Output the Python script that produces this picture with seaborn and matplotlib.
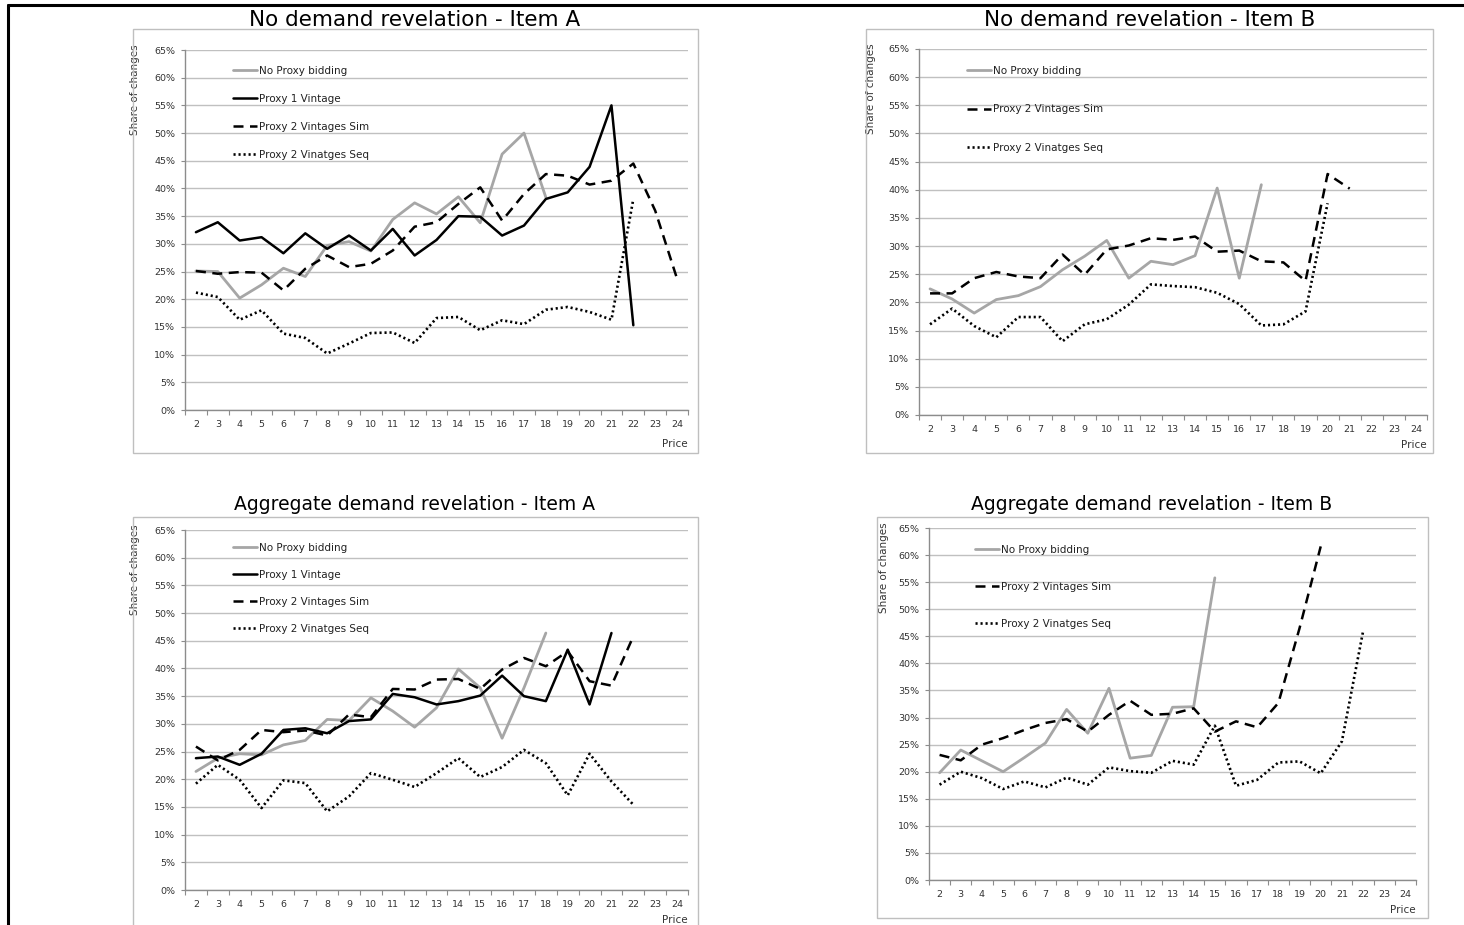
import matplotlib
matplotlib.use("Agg")
import matplotlib.pyplot as plt
from matplotlib.patches import Rectangle
from matplotlib.lines import Line2D
import seaborn as sns
import pandas as pd

# ---------------- data ----------------
prices = list(range(2, 25))
price_labels = [str(p) for p in prices]
y_ticks = list(range(0, 70, 5))

series_names = ["No Proxy bidding", "Proxy 1 Vintage",
                "Proxy 2 Vintages Sim", "Proxy 2 Vinatges Seq"]

# No demand revelation - Item A
tl_noproxy = [25.1, 25.0, 20.2, 22.6, 25.6, 24.1, 29.7, 30.4, 28.7, 34.4, 37.4,
              35.4, 38.5, 33.8, 46.2, 50.0, 38.4]
tl_proxy1 = [32.1, 33.9, 30.6, 31.2, 28.3, 31.9, 29.1, 31.5, 28.8, 32.7, 27.9,
             30.7, 35.0, 34.9, 31.5, 33.3, 38.1, 39.3, 43.9, 55.0, 15.3]
tl_sim = [25.1, 24.6, 24.9, 24.8, 21.6, 25.5, 27.9, 25.8, 26.4, 28.8, 33.1,
          33.9, 37.2, 40.2, 34.2, 39.0, 42.6, 42.3, 40.7, 41.4, 44.5, 36.0, 23.7]
tl_seq = [21.2, 20.4, 16.3, 18.0, 13.8, 13.0, 10.2, 12.0, 13.9, 14.0, 12.1,
          16.6, 16.8, 14.4, 16.2, 15.5, 18.1, 18.6, 17.7, 16.3, 38.1]

# No demand revelation - Item B
tr_noproxy = [22.4, 20.6, 18.1, 20.5, 21.2, 22.8, 25.8, 28.2, 31.0, 24.3, 27.3,
              26.7, 28.3, 40.3, 24.3, 40.9]
tr_sim = [21.6, 21.6, 24.3, 25.4, 24.6, 24.3, 28.5, 24.9, 29.4, 30.1, 31.4,
          31.1, 31.7, 29.0, 29.2, 27.3, 27.1, 23.8, 42.8, 40.2]
tr_seq = [16.1, 18.9, 15.8, 13.8, 17.4, 17.4, 13.1, 16.1, 17.0, 19.6, 23.2,
          22.9, 22.7, 21.7, 19.7, 15.9, 16.1, 18.4, 37.6]

# Aggregate demand revelation - Item A
bl_noproxy = [21.4, 23.8, 24.6, 24.4, 26.2, 27.0, 30.8, 30.6, 34.7, 32.3, 29.4,
              32.9, 39.9, 36.5, 27.4, 36.5, 46.4]
bl_proxy1 = [23.8, 24.1, 22.6, 24.6, 28.9, 29.2, 28.3, 30.5, 30.8, 35.4, 34.8,
             33.5, 34.1, 35.1, 38.7, 35.0, 34.1, 43.4, 33.5, 46.4]
bl_sim = [25.9, 23.4, 25.3, 28.9, 28.5, 28.8, 27.9, 31.7, 31.2, 36.3, 36.2,
          38.0, 38.1, 36.3, 39.8, 41.9, 40.4, 43.1, 37.7, 36.9, 45.8]
bl_seq = [19.2, 22.6, 19.9, 14.8, 19.8, 19.3, 14.2, 16.9, 21.1, 19.9, 18.6,
          21.1, 23.8, 20.4, 22.2, 25.3, 22.9, 17.1, 24.6, 19.6, 15.4]

# Aggregate demand revelation - Item B
br_noproxy = [19.8, 24.0, 22.0, 20.0, 22.6, 25.3, 31.5, 27.1, 35.4, 22.5, 23.0,
              31.9, 32.0, 55.8]
br_sim = [23.1, 22.1, 25.0, 26.2, 27.7, 29.0, 29.7, 27.4, 30.5, 33.1, 30.5,
          30.7, 31.7, 27.4, 29.3, 28.2, 32.7, 46.5, 61.6]
br_seq = [17.6, 20.0, 18.8, 16.8, 18.2, 17.1, 18.9, 17.6, 20.8, 20.1, 19.8,
          22.0, 21.3, 28.5, 17.4, 18.5, 21.7, 21.9, 19.7, 25.6, 45.9]

# ---------------- styling ----------------
sns.set_theme(style="white")
plt.rcParams["font.family"] = ["DejaVu Sans"]

W, H = 1464, 925
fig = plt.figure(figsize=(W / 100, H / 100), dpi=100)
fig.patch.set_facecolor("white")

GRID = "#C0C0C0"
AXIS = "#8C8C8C"
BOX = "#BFBFBF"

line_styles = {
    "No Proxy bidding": dict(color="#A6A6A6", linewidth=2.0, linestyle="-"),
    "Proxy 1 Vintage": dict(color="black", linewidth=1.8, linestyle="-"),
    "Proxy 2 Vintages Sim": dict(color="black", linewidth=1.8,
                                 linestyle=(0, (4.0, 2.6))),
    "Proxy 2 Vinatges Seq": dict(color="black", linewidth=1.9,
                                 linestyle=(0, (0.8, 1.1))),
}


def rect(left, right, top, bottom):
    return [left / W, (H - bottom) / H, (right - left) / W, (bottom - top) / H]


def draw_panel(box, axes_px, title, title_xy, title_size, series, ylab_x,
               legend_px, label_gap):
    x0, y0, x1, y1 = box
    fig.add_artist(Rectangle((x0 / W, (H - y1) / H), (x1 - x0) / W, (y1 - y0) / H,
                             transform=fig.transFigure, fill=False,
                             edgecolor=BOX, linewidth=1.0))
    fig.text(title_xy[0] / W, 1 - title_xy[1] / H, title, ha="center",
             va="center", fontsize=title_size, color="black")

    left, right, top, bottom = axes_px
    ax = fig.add_axes(rect(left, right, top, bottom))
    ax.set_facecolor("white")

    for name, vals in series:
        df = pd.DataFrame({"Price": prices[:len(vals)], "Share": vals})
        sns.lineplot(data=df, x="Price", y="Share", ax=ax, label=name,
                     **line_styles[name])

    ax.set_ylim(0, 65)
    ax.set_xlim(1.5, 24.5)
    ax.set_yticks(y_ticks)
    ax.set_yticklabels([f"{v}%" for v in y_ticks])
    ax.set_xticks(prices)
    ax.set_xticklabels(price_labels)
    ax.set_xticks([p + 0.5 for p in [1] + prices], minor=True)
    ax.tick_params(axis="x", which="major", length=0, pad=7, labelsize=6.8,
                   colors="#333333")
    ax.tick_params(axis="x", which="minor", length=3.5, width=0.8, color=AXIS,
                   direction="out", bottom=True)
    ax.tick_params(axis="y", which="major", length=3, width=0.8, color=AXIS,
                   direction="out", left=True, pad=4, labelsize=6.8,
                   labelcolor="#333333")
    ax.grid(axis="y", color=GRID, linewidth=1.0)
    ax.set_axisbelow(True)
    for s in ["top", "right"]:
        ax.spines[s].set_visible(False)
    for s in ["left", "bottom"]:
        ax.spines[s].set_color(AXIS)
        ax.spines[s].set_linewidth(1.0)

    h_px = bottom - top
    w_px = right - left
    ax.set_ylabel("Share of changes", fontsize=7.5, color="#333333", loc="top")
    ax.yaxis.set_label_coords((ylab_x - left) / w_px, 1 + 6 / h_px)
    ax.set_xlabel("Price", fontsize=7.5, color="#333333", loc="right")
    ax.xaxis.set_label_coords(1.0, -(label_gap) / h_px)

    hx, hy, spacing = legend_px
    fs = 7.5
    fs_px = fs * 100 / 72
    row_h = 1.16 * fs_px
    leg = ax.legend(loc="upper left",
                    bbox_to_anchor=((hx - left) / w_px,
                                    1 - (hy - row_h / 2 - top) / h_px),
                    frameon=False, fontsize=fs, borderpad=0, borderaxespad=0,
                    handlelength=2.3, handletextpad=0.15,
                    labelspacing=(spacing - row_h) / fs_px)
    for t in leg.get_texts():
        t.set_color("#222222")
    return ax


# Black frame along the top and left edges
fig.add_artist(Line2D([8 / W, 8 / W], [0, 1 - 5 / H], transform=fig.transFigure,
                      color="black", linewidth=2.2))
fig.add_artist(Line2D([8 / W, 1], [1 - 5 / H, 1 - 5 / H],
                      transform=fig.transFigure, color="black", linewidth=2.2))

draw_panel((133, 29, 698, 453), (185, 688, 50, 410),
           "No demand revelation - Item A", (415, 20), 15.5,
           [(series_names[0], tl_noproxy), (series_names[1], tl_proxy1),
            (series_names[2], tl_sim), (series_names[3], tl_seq)],
           140, (233, 72, 30), 29)

draw_panel((866, 29, 1433, 453), (919, 1427, 49, 415),
           "No demand revelation - Item B", (1150, 20), 15.5,
           [(series_names[0], tr_noproxy), (series_names[2], tr_sim),
            (series_names[3], tr_seq)],
           876, (967, 72, 40.5), 25)

draw_panel((133, 517, 698, 930), (185, 688, 530, 890),
           "Aggregate demand revelation - Item A", (415, 504), 13.5,
           [(series_names[0], bl_noproxy), (series_names[1], bl_proxy1),
            (series_names[2], bl_sim), (series_names[3], bl_seq)],
           140, (233, 549, 29), 25)

draw_panel((877, 517, 1428, 918), (929, 1416, 528, 880),
           "Aggregate demand revelation - Item B", (1152, 504), 13.5,
           [(series_names[0], br_noproxy), (series_names[2], br_sim),
            (series_names[3], br_seq)],
           889, (975, 551, 39), 25)

fig.savefig("out.png", dpi=100, facecolor="white")
